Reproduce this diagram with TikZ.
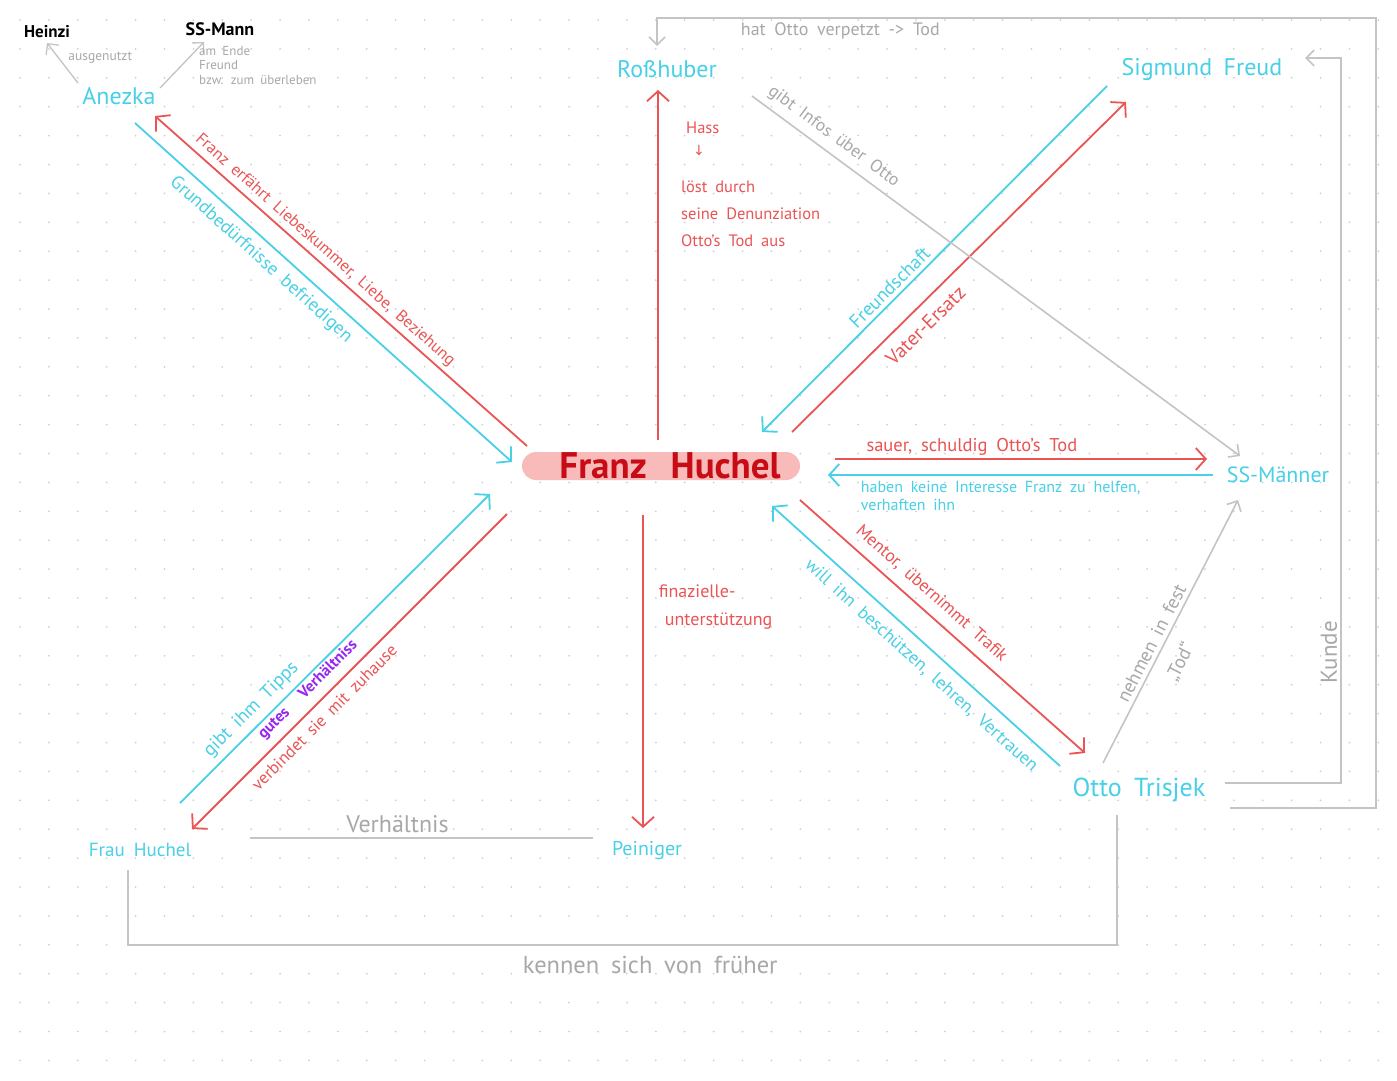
\documentclass[tikz,border=0pt]{standalone}
\usepackage{fontspec}
\setmainfont[WordSpace=1.8]{PT Sans}
\newfontfamily\symfont{DejaVu Sans}
\usetikzlibrary{arrows.meta}
\definecolor{cR}{RGB}{234,84,84}
\definecolor{cC}{RGB}{72,208,230}
\definecolor{cG}{RGB}{196,196,196}
\definecolor{cGT}{RGB}{168,168,168}
\definecolor{cDR}{RGB}{200,12,22}
\definecolor{cPink}{RGB}{249,186,186}
\definecolor{cP}{RGB}{150,40,240}
\definecolor{cDot}{RGB}{208,208,208}
\newcommand\myfs[1]{\fontsize{#1}{#1}\selectfont}
\newcommand\myfsb[2]{\fontsize{#1}{#2}\selectfont}
\tikzset{
  pname/.style={text=cC, font=\myfs{24}, inner sep=1pt},
  bname/.style={text=black, font=\bfseries\myfs{17}, inner sep=1pt},
  edgeR/.style={draw=cR, line width=1.8pt},
  edgeC/.style={draw=cC, line width=1.8pt},
  edgeG/.style={draw=cG, line width=1.6pt},
  tipR/.style={-{Straight Barb[length=10pt,width=22pt]}},
  tipC/.style={-{Straight Barb[length=10pt,width=22pt]}},
  tipG/.style={-{Straight Barb[length=8pt,width=16pt]}},
  lbl/.style={sloped, inner sep=1pt},
  lblR/.style={lbl, text=cR},
  lblC/.style={lbl, text=cC},
  lblG/.style={lbl, text=cGT},
}
\begin{document}
\begin{tikzpicture}[x=1pt,y=-1pt]
\useasboundingbox (0,0) rectangle (1397,1080);
\fill[white] (0,0) rectangle (1397,1080);
\foreach \i in {0,...,47}{\foreach \j in {0,...,36}{\fill[cDot] (20+28.9*\i,20+28.9*\j) circle (1pt);}}

% ---------- persons ----------
\node[bname] (heinzi) at (47,32) {Heinzi};
\node[bname, font=\bfseries\myfs{18}] (ssmann) at (220,29) {SS-Mann};
\node[pname] (anezka) at (119,96) {Anezka};
\node[pname] (ross) at (667,69) {Roßhuber};
\node[pname] (freud) at (1202,69) {Sigmund Freud};
\node[pname, font=\myfs{22}] (ssm) at (1278,475) {SS-Männer};
\node[pname, font=\myfs{26}] (otto) at (1139,790) {Otto Trisjek};
\node[pname, font=\myfs{20}] (pein) at (647,851) {Peiniger};
\node[pname, font=\myfs{19}] (frau) at (140,850) {Frau Huchel};
\node[fill=cPink, rounded corners=14pt, minimum width=278pt, minimum height=28pt,
      inner sep=0pt, text height=25pt, text depth=0pt, text=cDR,
      font=\bfseries\myfs{37}] (franz) at (661,466) {\hspace{18pt}Franz\hspace{24pt}Huchel};

% ---------- end points ----------
\coordinate (aH) at (78,83);   \coordinate (hA) at (47,43);
\coordinate (aS) at (160,88);  \coordinate (sA) at (204,42);
\coordinate (fA) at (527,446); \coordinate (aF) at (155,116);
\coordinate (aF2) at (135,123);\coordinate (fA2) at (512,462);
\coordinate (fR) at (658,440); \coordinate (rF) at (658,90);
\coordinate (frF) at (1107,86);\coordinate (fFr) at (762,432);
\coordinate (fFr2) at (792,432);\coordinate (frF2) at (1126,102);
\coordinate (fS) at (835,459); \coordinate (sF) at (1207,459);
\coordinate (sF2) at (1213,475);\coordinate (fS2) at (828,475);
\coordinate (fO) at (800,500); \coordinate (oF) at (1085,753);
\coordinate (oF2) at (1060,766);\coordinate (fO2) at (772,506);
\coordinate (fP) at (643,515); \coordinate (pF) at (643,828);
\coordinate (hF) at (180,803); \coordinate (fH) at (490,494);
\coordinate (fH2) at (507,514);\coordinate (hF2) at (192,829);
\coordinate (hP) at (250,838); \coordinate (pH) at (593,838);
\coordinate (hO) at (128,870); \coordinate (oH) at (1117,815);
\coordinate (rS) at (752,96);  \coordinate (sR) at (1240,456);
\coordinate (oS) at (1103,763);\coordinate (sO) at (1238,500);
\coordinate (oR) at (1230,808);\coordinate (rO) at (657,46);
\coordinate (oFr) at (1225,783);\coordinate (frO) at (1305,58);

% ---------- Anezka side ----------
\draw[edgeG, line width=1.3pt, tipG] (aH) -- node[pos=0.5, anchor=west, xshift=2pt, yshift=5pt, text=cGT, font=\myfs{13.5}] {ausgenutzt} (hA);
\draw[edgeG, line width=1.3pt, tipG] (aS) -- (sA);
\node[anchor=north west, align=left, text=cGT, font=\myfsb{13}{14.5}, inner sep=0pt] (ssmlbl) at (199,46) {am Ende\\Freund\\bzw. zum überleben};

\draw[edgeR, tipR] (fA) -- node[lblR, pos=0.565, above=3pt, font=\myfs{16.5}] {Franz erfährt Liebeskummer, Liebe, Beziehung} (aF);
\draw[edgeC, tipC] (aF2) -- node[lblC, pos=0.365, below=7pt, font=\myfs{18.5}] {Grundbedürfnisse befriedigen} (fA2);

% ---------- Rosshuber ----------
\draw[edgeR, tipR] (fR) -- (rF);
\node[anchor=north west, align=left, text=cR, font=\myfsb{16.5}{27}, inner sep=0pt] (hass) at (681,122)
  {\hspace{5pt}Hass\\[-5pt]\hspace{12pt}{\symfont\myfs{14}↓}\\[10pt]löst durch\\seine Denunziation\\Otto's Tod aus};

% ---------- Freud ----------
\draw[edgeC, tipC] (frF) -- node[lblC, pos=0.606, above=3pt, font=\myfs{19}] {Freundschaft} (fFr);
\draw[edgeR, tipR] (fFr2) -- node[lblR, pos=0.362, below=9pt, font=\myfs{20}] {Vater-Ersatz} (frF2);

% ---------- SS-Maenner ----------
\draw[edgeR, tipR] (fS) -- node[lblR, pos=0.368, above=2pt, font=\myfs{18.5}] {sauer, schuldig Otto's Tod} (sF);
\draw[edgeC, tipC] (sF2) -- node[pos=0.917, anchor=north west, align=left, inner sep=0pt, yshift=-5pt, text=cC, font=\myfsb{16}{18}] {haben keine Interesse Franz zu helfen,\\verhaften ihn} (fS2);

% ---------- Otto ----------
\draw[edgeR, tipR] (fO) -- node[lblR, pos=0.421, above=8pt, font=\myfs{17.5}] {Mentor, übernimmt Trafik} (oF);
\draw[edgeC, tipC] (oF2) -- node[lblC, pos=0.438, below=9pt, font=\myfs{18}] {will ihn beschützen, lehren, Vertrauen} (fO2);

% ---------- Peiniger ----------
\draw[edgeR, tipR] (fP) -- node[pos=0.2, anchor=north west, align=left, inner sep=0pt, xshift=15pt, yshift=-6pt, text=cR, font=\myfsb{18}{28}] {finazielle-\\\hspace{6pt}unterstützung} (pF);

% ---------- Frau Huchel ----------
\draw[edgeC, tipC] (hF) -- node[lblC, pos=0.266, above=5pt, font=\myfs{19}] {gibt ihm Tipps} (fH);
\draw[edgeR, tipR] (fH2) -- node[lblR, pos=0.613, below=6.5pt, font=\myfs{17}] {verbindet sie mit zuhause}
   node[lbl, pos=0.595, above=7pt, text=cP, font=\bfseries\myfs{16}] {gutes\hspace{20pt}Verhältniss} (hF2);

% ---------- grey relations ----------
\draw[edgeG] (hP) -- node[pos=0.43, above=3pt, text=cGT, font=\myfs{24}, inner sep=1pt] {Verhältnis} (pH);
\draw[edgeG] (hO) -- (128,945) -- node[pos=0.528, below=9pt, text=cGT, font=\myfs{24.5}, inner sep=1pt] {kennen sich von früher} (1117,945) -- (oH);
\draw[edgeG, tipG] (rS) -- node[lblG, pos=0.148, above=6pt, font=\myfs{17.5}] {gibt Infos über Otto} (sR);
\draw[edgeG, tipG] (oS) -- node[lblG, pos=0.435, above=3pt, font=\myfs{19}] {nehmen in fest}
   node[lblG, pos=0.424, below=12pt, font=\myfs{19}] {„Tod“} (sO);
\draw[edgeG, tipG] (oR) -- (1376,808) -- (1376,18) -- node[pos=0.745, below=3pt, text=cGT, font=\myfs{18}, inner sep=1pt] {hat Otto verpetzt -> Tod} (657,18) -- (rO);
\draw[edgeG, tipG] (oFr) -- (1341,783) -- node[lblG, pos=0.18, above=2pt, font=\myfs{23}] {Kunde} (1341,58) -- (frO);
\end{tikzpicture}
\end{document}
